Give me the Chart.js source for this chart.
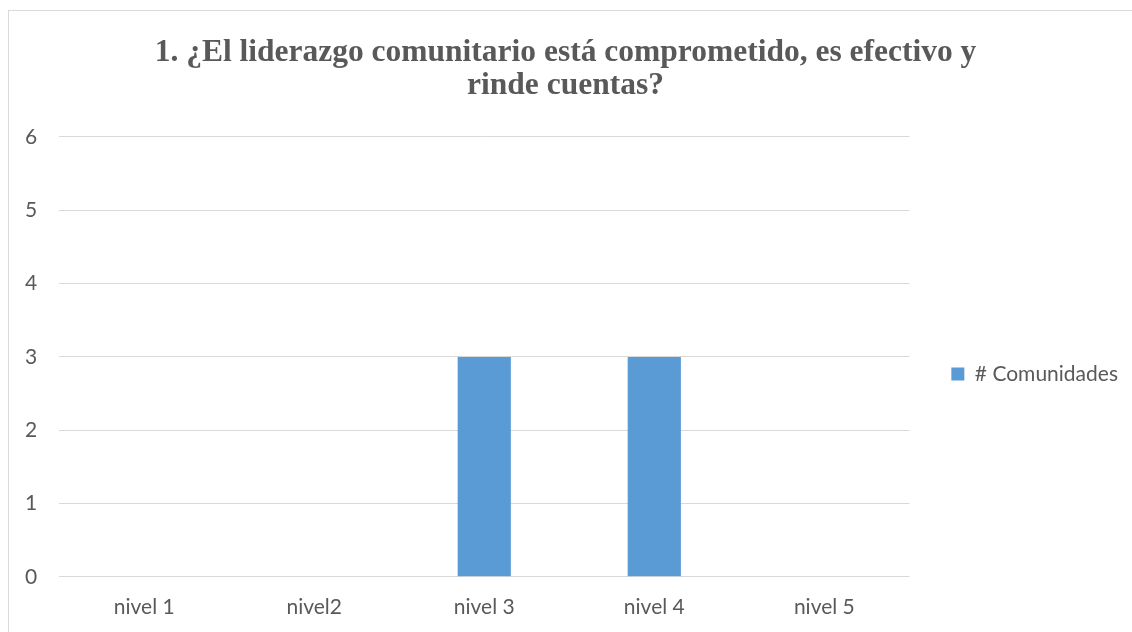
<!DOCTYPE html>
<html>
<head>
<meta charset="utf-8">
<script src="https://cdn.jsdelivr.net/npm/chart.js@4.4.1/dist/chart.umd.min.js"></script>
<style>
    body { margin: 0; background: #ffffff; overflow: hidden; }
    #wrap { position: relative; width: 1132px; height: 632px; overflow: hidden; }
    #frame {
        position: absolute; left: 8px; top: 10px;
        width: 1140px; height: 660px;
        border: 1px solid #d9d9d9; pointer-events: none;
    }
</style>
</head>
<body>
<div id="wrap">
    <canvas id="chart1" width="1132" height="650"></canvas>
    <div id="frame"></div>
</div>
<script>
// Dataset
const chartTitle = ["1. ¿El liderazgo comunitario está comprometido, es efectivo y", "rinde cuentas?"];
const levels = ["nivel 1", "nivel2", "nivel 3", "nivel 4", "nivel 5"];
const seriesName = "# Comunidades";
const communities = [0, 0, 3, 3, 0];
const yTicks = [0, 1, 2, 3, 4, 5, 6];

const textColor = "#595959";
const gridColor = "#d9d9d9";
const barColor = "#5b9bd5";
const sansFont = "Lato";

// Build chart
let ctx = document.getElementById("chart1").getContext("2d");
let chart = new Chart(ctx, {
    type: "bar",
    data: {
        labels: levels,
        datasets: [{
            label: seriesName,
            data: communities,
            backgroundColor: barColor,
            borderWidth: 0,
            categoryPercentage: 1,
            barPercentage: 0.313
        }]
    },
    options: {
        responsive: false,
        animation: false,
        layout: {
            padding: { left: 3, right: 4, top: 0, bottom: 12 }
        },
        plugins: {
            title: {
                display: true,
                text: chartTitle,
                color: textColor,
                font: { family: "Liberation Serif", size: 31.5, weight: "bold", lineHeight: 1.0476 },
                padding: { top: 36, bottom: 35 }
            },
            legend: {
                position: "right",
                fullSize: false,
                // empty title only pushes the legend item a bit lower
                title: {
                    display: true,
                    text: "",
                    font: { size: 24, lineHeight: 1 },
                    padding: 5
                },
                labels: {
                    color: textColor,
                    font: { family: sansFont, size: 21 },
                    boxWidth: 13,
                    boxHeight: 13,
                    padding: 42
                }
            },
            tooltip: { enabled: false }
        },
        scales: {
            x: {
                grid: { display: false, drawTicks: false },
                border: { display: false },
                ticks: {
                    color: textColor,
                    font: { family: sansFont, size: 21 },
                    padding: 18
                }
            },
            y: {
                min: yTicks[0],
                max: yTicks[yTicks.length - 1],
                grid: { color: gridColor, lineWidth: 1, drawTicks: false },
                border: { display: false },
                afterBuildTicks: (axis) => {
                    axis.ticks = yTicks.map(v => ({ value: v }));
                },
                ticks: {
                    color: textColor,
                    font: { family: sansFont, size: 21 },
                    padding: 22
                }
            }
        }
    }
});
</script>
</body>
</html>
